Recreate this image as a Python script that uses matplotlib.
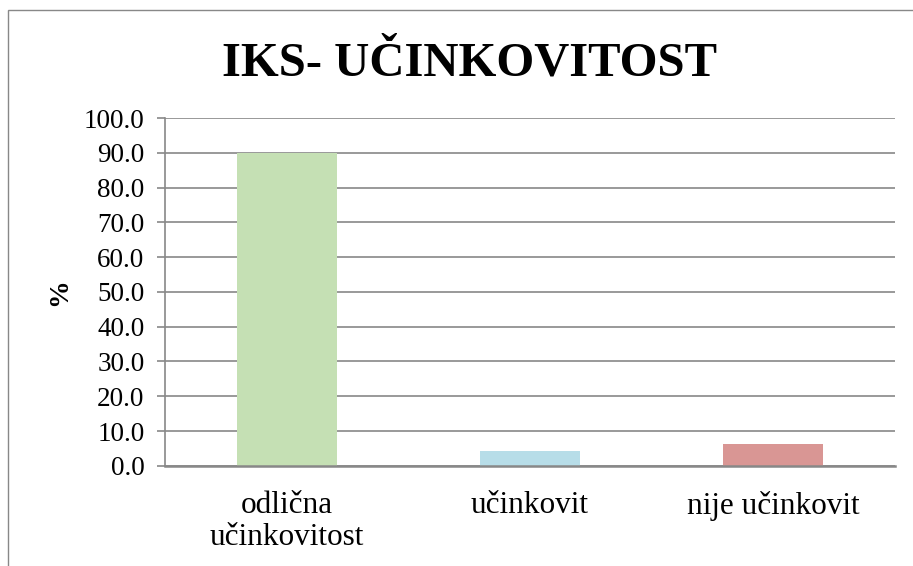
import matplotlib.pyplot as plt
from matplotlib.patches import Rectangle

categories = ['odlična\nučinkovitost', 'učinkovit', 'nije učinkovit']
values = [90.0, 4.3, 6.3]
bar_colors = ['#C5E0B4', '#B7DDE8', '#D99694']
yticks = [0, 10, 20, 30, 40, 50, 60, 70, 80, 90, 100]

plt.rcParams['font.family'] = ['Liberation Serif', 'DejaVu Serif']

fig = plt.figure(figsize=(9.13, 5.66), dpi=100)
ax = fig.add_axes([0.181, 0.177, 0.799, 0.6145])

# outer chart frame (only left/top visible in the crop)
fig.patches.append(Rectangle((8 / 913, -0.1), 1.2, 1 - 10 / 566 + 0.1,
                             transform=fig.transFigure, fill=False,
                             edgecolor='#888888', linewidth=1.0))

x = range(len(categories))
ax.bar(x, values, width=0.41, color=bar_colors, zorder=3)

ax.set_xlim(-0.5, 2.5)
ax.set_ylim(0, 100)
ax.set_yticks(yticks)
ax.set_yticklabels([f'{v:.1f}' for v in yticks], fontsize=19.5)
ax.set_xticks(list(x))
ax.set_xticklabels(categories, fontsize=22.5, linespacing=1.15)
ax.tick_params(axis='x', length=0, pad=18)
ax.tick_params(axis='y', length=6, width=1.2, color='#888888', pad=9)

ax.grid(axis='y', color='#888888', linewidth=1.2, zorder=0)
for side in ['top', 'right']:
    ax.spines[side].set_visible(False)
ax.spines['left'].set_color('#888888')
ax.spines['left'].set_linewidth(1.2)
ax.spines['bottom'].set_color('#888888')
ax.spines['bottom'].set_linewidth(1.8)
ax.spines['bottom'].set_zorder(4)

ax.set_ylabel('%', fontsize=20, fontweight='bold', labelpad=8)
fig.text(0.5147, 1 - 75 / 566, 'IKS- UČINKOVITOST', ha='center', va='baseline',
         fontsize=35, fontweight='bold')

fig.savefig('out.png', dpi=100)
